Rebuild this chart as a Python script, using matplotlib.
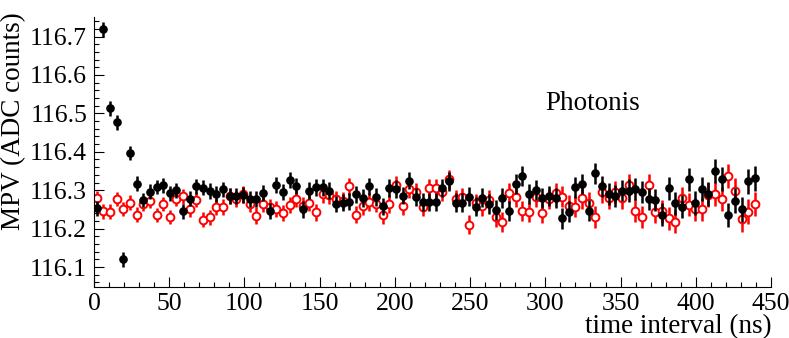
import matplotlib
matplotlib.use("Agg")
import matplotlib.pyplot as plt
from matplotlib.ticker import MultipleLocator

plt.rcParams['font.family'] = ['Liberation Serif', 'DejaVu Serif']

time_ns = [1.8, 6.2, 10.6, 15.1, 19.5, 23.9, 28.3, 32.7, 37.2, 41.6,
           46.0, 50.4, 54.8, 59.3, 63.7, 68.1, 72.5, 76.9, 81.4, 85.8,
           90.2, 94.6, 99.0, 103.5, 107.9, 112.3, 116.7, 121.1, 125.6, 130.0,
           134.4, 138.8, 143.2, 147.7, 152.1, 156.5, 160.9, 165.3, 169.8, 174.2,
           178.6, 183.0, 187.4, 191.9, 196.3, 200.7, 205.1, 209.5, 214.0, 218.4,
           222.8, 227.2, 231.6, 236.1, 240.5, 244.9, 249.3, 253.7, 258.2, 262.6,
           267.0, 271.4, 275.8, 280.3, 284.7, 289.1, 293.5, 297.9, 302.4, 306.8,
           311.2, 315.6, 320.0, 324.5, 328.9, 333.3, 337.7, 342.1, 346.6, 351.0,
           355.4, 359.8, 364.2, 368.7, 373.1, 377.5, 381.9, 386.3, 390.8, 395.2,
           399.6, 404.0, 408.4, 412.9, 417.3, 421.7, 426.1, 430.5, 435.0, 439.4]

mpv_black = [116.253, 116.719, 116.513, 116.477, 116.120, 116.397, 116.317, 116.275, 116.296, 116.308,
             116.313, 116.292, 116.300, 116.245, 116.278, 116.310, 116.307, 116.298, 116.290, 116.302,
             116.285, 116.284, 116.287, 116.277, 116.277, 116.292, 116.245, 116.314, 116.296, 116.327,
             116.311, 116.250, 116.299, 116.308, 116.308, 116.299, 116.264, 116.268, 116.270, 116.290,
             116.279, 116.310, 116.283, 116.258, 116.305, 116.304, 116.286, 116.325, 116.283, 116.270,
             116.270, 116.270, 116.306, 116.323, 116.268, 116.268, 116.283, 116.257, 116.280, 116.264,
             116.248, 116.279, 116.247, 116.317, 116.337, 116.290, 116.301, 116.279, 116.284, 116.279,
             116.227, 116.244, 116.308, 116.316, 116.247, 116.344, 116.310, 116.290, 116.285, 116.299,
             116.299, 116.303, 116.296, 116.277, 116.275, 116.236, 116.305, 116.266, 116.257, 116.329,
             116.266, 116.303, 116.290, 116.349, 116.329, 116.236, 116.273, 116.250, 116.323, 116.331]

err_black = [0.019, 0.019, 0.019, 0.019, 0.019, 0.019, 0.019, 0.019, 0.019, 0.019,
             0.019, 0.019, 0.019, 0.020, 0.020, 0.020, 0.020, 0.020, 0.020, 0.020,
             0.021, 0.021, 0.021, 0.021, 0.021, 0.021, 0.021, 0.021, 0.021, 0.021,
             0.022, 0.022, 0.022, 0.022, 0.022, 0.022, 0.022, 0.022, 0.022, 0.022,
             0.023, 0.023, 0.023, 0.023, 0.023, 0.023, 0.023, 0.023, 0.023, 0.023,
             0.024, 0.024, 0.024, 0.024, 0.024, 0.025, 0.025, 0.025, 0.025, 0.025,
             0.026, 0.026, 0.026, 0.026, 0.026, 0.026, 0.026, 0.026, 0.026, 0.026,
             0.027, 0.027, 0.027, 0.027, 0.027, 0.028, 0.028, 0.028, 0.028, 0.028,
             0.029, 0.029, 0.029, 0.029, 0.029, 0.030, 0.030, 0.030, 0.030, 0.030,
             0.031, 0.031, 0.031, 0.031, 0.031, 0.032, 0.032, 0.032, 0.032, 0.032]

mpv_red = [116.280, 116.245, 116.244, 116.277, 116.251, 116.268, 116.236, 116.264, 116.273, 116.235,
           116.264, 116.230, 116.277, 116.284, 116.250, 116.275, 116.223, 116.229, 116.256, 116.256,
           116.285, 116.277, 116.289, 116.265, 116.234, 116.264, 116.255, 116.250, 116.241, 116.262,
           116.278, 116.260, 116.268, 116.242, 116.289, 116.287, 116.277, 116.273, 116.310, 116.236,
           116.259, 116.270, 116.265, 116.236, 116.264, 116.314, 116.259, 116.303, 116.296, 116.257,
           116.305, 116.305, 116.295, 116.328, 116.277, 116.282, 116.210, 116.266, 116.258, 116.275,
           116.231, 116.216, 116.293, 116.282, 116.247, 116.242, 116.282, 116.240, 116.276, 116.294,
           116.283, 116.260, 116.257, 116.279, 116.268, 116.230, 116.296, 116.279, 116.296, 116.279,
           116.314, 116.247, 116.231, 116.314, 116.244, 116.245, 116.227, 116.218, 116.279, 116.262,
           116.250, 116.250, 116.288, 116.290, 116.277, 116.337, 116.299, 116.224, 116.244, 116.264]

err_red = [0.019, 0.019, 0.019, 0.019, 0.019, 0.019, 0.019, 0.019, 0.019, 0.019,
           0.019, 0.019, 0.019, 0.020, 0.020, 0.020, 0.020, 0.020, 0.020, 0.020,
           0.021, 0.021, 0.021, 0.021, 0.021, 0.021, 0.021, 0.021, 0.021, 0.021,
           0.022, 0.022, 0.022, 0.022, 0.022, 0.022, 0.022, 0.022, 0.022, 0.022,
           0.023, 0.023, 0.023, 0.023, 0.023, 0.023, 0.023, 0.023, 0.023, 0.023,
           0.024, 0.024, 0.024, 0.024, 0.024, 0.025, 0.025, 0.025, 0.025, 0.025,
           0.026, 0.026, 0.026, 0.026, 0.026, 0.026, 0.026, 0.026, 0.026, 0.026,
           0.027, 0.027, 0.027, 0.027, 0.027, 0.028, 0.028, 0.028, 0.028, 0.028,
           0.029, 0.029, 0.029, 0.029, 0.029, 0.030, 0.030, 0.030, 0.030, 0.030,
           0.031, 0.031, 0.031, 0.031, 0.031, 0.032, 0.032, 0.032, 0.032, 0.032]

fig = plt.figure(figsize=(7.89, 3.38), dpi=100)
ax = fig.add_axes([94/789, 1-287/338, (771-94)/789, (287-17)/338])

ax.errorbar(time_ns, mpv_red, yerr=err_red, fmt='o', ms=5.6, mfc='white', mec='#ff0000',
            mew=1.4, ecolor='#ff0000', elinewidth=1.8, capsize=0, zorder=2)
ax.errorbar(time_ns, mpv_black, yerr=err_black, fmt='o', ms=5.2, mfc='black', mec='black',
            ecolor='black', elinewidth=1.8, capsize=0, zorder=3)

ax.set_xlim(0, 450)
ax.set_ylim(116.048, 116.751)
ax.spines['top'].set_visible(False)
ax.spines['right'].set_visible(False)
ax.xaxis.set_major_locator(MultipleLocator(50))
ax.xaxis.set_minor_locator(MultipleLocator(10))
ax.yaxis.set_major_locator(MultipleLocator(0.1))
ax.yaxis.set_minor_locator(MultipleLocator(0.02))
ax.yaxis.set_major_formatter(matplotlib.ticker.FormatStrFormatter('%.1f'))
ax.tick_params(which='both', direction='in', top=False, right=False, labelsize=18.5)
ax.tick_params(which='major', length=7, width=0.8)
ax.tick_params(which='minor', length=3.5, width=0.8)
ax.tick_params(axis='x', pad=4)
ax.tick_params(axis='y', pad=5)

ax.text(300, 116.527, 'Photonis', fontsize=19.5, ha='left', va='center')

fig.text(14/789, 1-12/338, 'MPV (ADC counts)', rotation=90, fontsize=19.5,
         ha='center', va='top')
fig.text(772/789, 1-327/338, 'time interval (ns)', fontsize=19.5, ha='right', va='center')

fig.savefig('out.png', dpi=100)
